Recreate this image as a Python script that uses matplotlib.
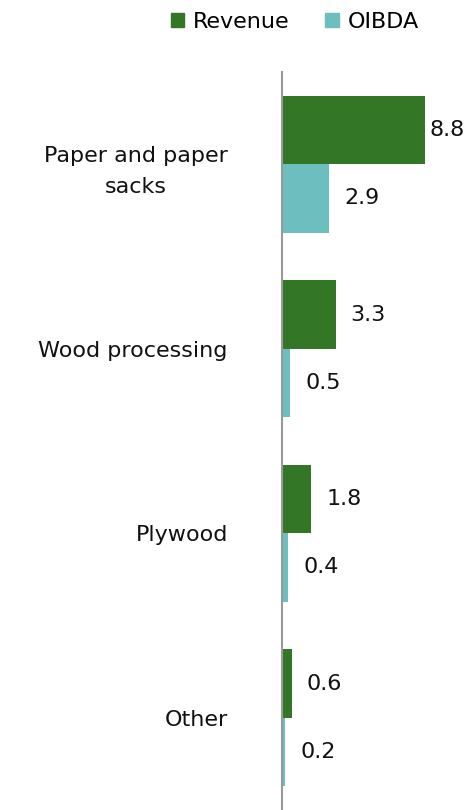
import numpy as np
import matplotlib
matplotlib.use("Agg")
import matplotlib.pyplot as plt
from matplotlib.patches import Patch

categories = ["Paper and paper\nsacks", "Wood processing", "Plywood", "Other"]
revenue = [8.8, 3.3, 1.8, 0.6]
oibda = [2.9, 0.5, 0.4, 0.2]

GREEN = "#337726"
TEAL = "#6CBEBF"
FS = 16
plt.rcParams["font.family"] = "DejaVu Sans"

W, H = 468, 810
fig = plt.figure(figsize=(W / 100, H / 100), dpi=100)
ax = fig.add_axes([282 / W, 0, 186 / W, 738 / H])

y = np.arange(len(categories))
h = 0.37
ax.barh(y - h / 2, revenue, height=h, color=GREEN)
ax.barh(y + h / 2, oibda, height=h, color=TEAL)

ax.set_ylim(3.5, -0.5)
ax.set_xlim(0, 11.45)

for vals, off in ((revenue, -h / 2), (oibda, h / 2)):
    for i, v in enumerate(vals):
        xt = min(v + 0.92, 9.05)
        ax.text(xt, i + off, f"{v:.1f}", va="center", ha="left", fontsize=FS, color="#111111")

ax.set_yticks(y)
labels = ax.set_yticklabels(categories, fontsize=FS, color="#111111")
labels[0].set_multialignment("center")
labels[0].set_linespacing(1.7)
ax.tick_params(axis="y", length=0, pad=39)
ax.set_xticks([])
for s in ("top", "right", "bottom"):
    ax.spines[s].set_visible(False)
ax.spines["left"].set_color("#999999")
ax.spines["left"].set_linewidth(1.5)

handles = [Patch(color=GREEN, label="Revenue"), Patch(color=TEAL, label="OIBDA")]
fig.legend(handles=handles, loc="center", bbox_to_anchor=(295 / W, 1 - 22 / H), ncol=2,
           frameon=False, fontsize=FS, handlelength=0.6, handleheight=0.6,
           handletextpad=0.4, columnspacing=1.6)

fig.savefig("out.png", dpi=100)
